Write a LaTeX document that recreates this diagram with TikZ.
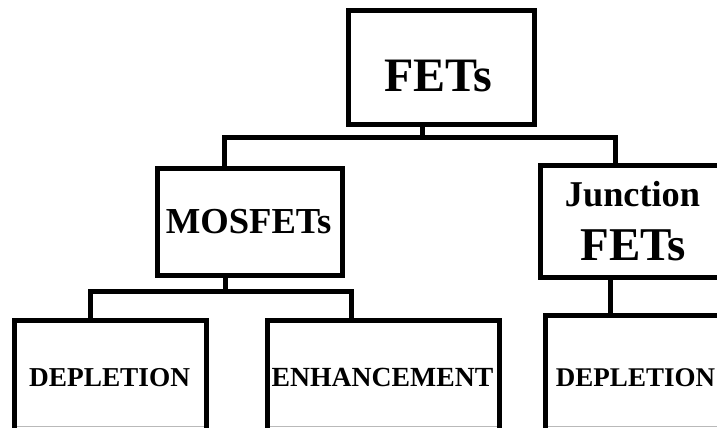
\documentclass[tikz,border=0pt]{standalone}
\usepackage{fontspec}
\setmainfont{Liberation Serif}
\begin{document}
\begin{tikzpicture}[x=1pt,y=-1pt,
  box/.style={draw,line width=5pt,rectangle,inner sep=0pt,fill=white},
  conn/.style={draw,line width=5pt,line join=miter},
  lbl/.style={anchor=base,inner sep=0pt,font=\bfseries},
  edgeline/.style={draw=gray!55,line width=0.8pt}]
\useasboundingbox (0,0) rectangle (717,428);
\fill[white] (0,0) rectangle (717,428);
\clip (0,0) rectangle (717,428);
% boxes
\node[box,minimum width=186pt,minimum height=113.5pt] (fets) at (441.5,67.25) {};
\node[box,minimum width=185pt,minimum height=106.5pt] (mos) at (250,221.75) {};
\node[box,minimum width=199.5pt,minimum height=112pt] (jun) at (640.25,221) {};
\node[box,minimum width=192pt,minimum height=119.5pt] (dl) at (110.5,380.25) {};
\node[box,minimum width=232pt,minimum height=119.5pt] (enh) at (383.5,380.25) {};
\node[box,minimum width=194.5pt,minimum height=125pt] (dr) at (642.75,377.5) {};
% junction points
\coordinate (j1) at (422.5,137.5);
\coordinate (a1) at (224.5,137.5);
\coordinate (a2) at (615,137.5);
\coordinate (b0) at (225.5,291);
\coordinate (b1) at (90.5,291);
\coordinate (b2) at (351.5,291);
\coordinate (c0) at (610.5,296);
% connectors
\draw[conn] (fets.south -| j1) -- (j1);
\draw[conn] (mos.north -| a1) -- (a1) -- (a2) -- (jun.north -| a2);
\draw[conn] (mos.south -| b0) -- (b0);
\draw[conn] (dl.north -| b1) -- (b1) -- (b2) -- (enh.north -| b2);
\draw[conn] (jun.south -| c0) -- (dr.north -| c0);
% faint lower edges
\draw[edgeline] (17,426.5) -- (204,426.5);
\draw[edgeline] (270,426.5) -- (497,426.5);
\draw[edgeline] (548,426.5) -- (717,426.5);
% labels
\node[lbl,font=\bfseries\fontsize{48}{48}\selectfont] (tF) at (438,91) {FETs};
\node[lbl,font=\bfseries\fontsize{36.6}{36.6}\selectfont] (tM) at (248.5,233) {MOSFETs};
\node[lbl,font=\bfseries\fontsize{36.3}{36.3}\selectfont] (tJ1) at (632.5,206) {Junction};
\node[lbl,font=\bfseries\fontsize{47}{47}\selectfont] (tJ2) at (633,260) {FETs};
\node[lbl,font=\bfseries\fontsize{27.3}{27.3}\selectfont] (tD1) at (109.6,386.7) {DEPLETION};
\node[lbl,font=\bfseries\fontsize{27.7}{27.7}\selectfont] (tE) at (382.5,386.7) {ENHANCEMENT};
\node[lbl,font=\bfseries\fontsize{27}{27}\selectfont] (tD2) at (635.5,386) {DEPLETION};
\end{tikzpicture}
\end{document}
